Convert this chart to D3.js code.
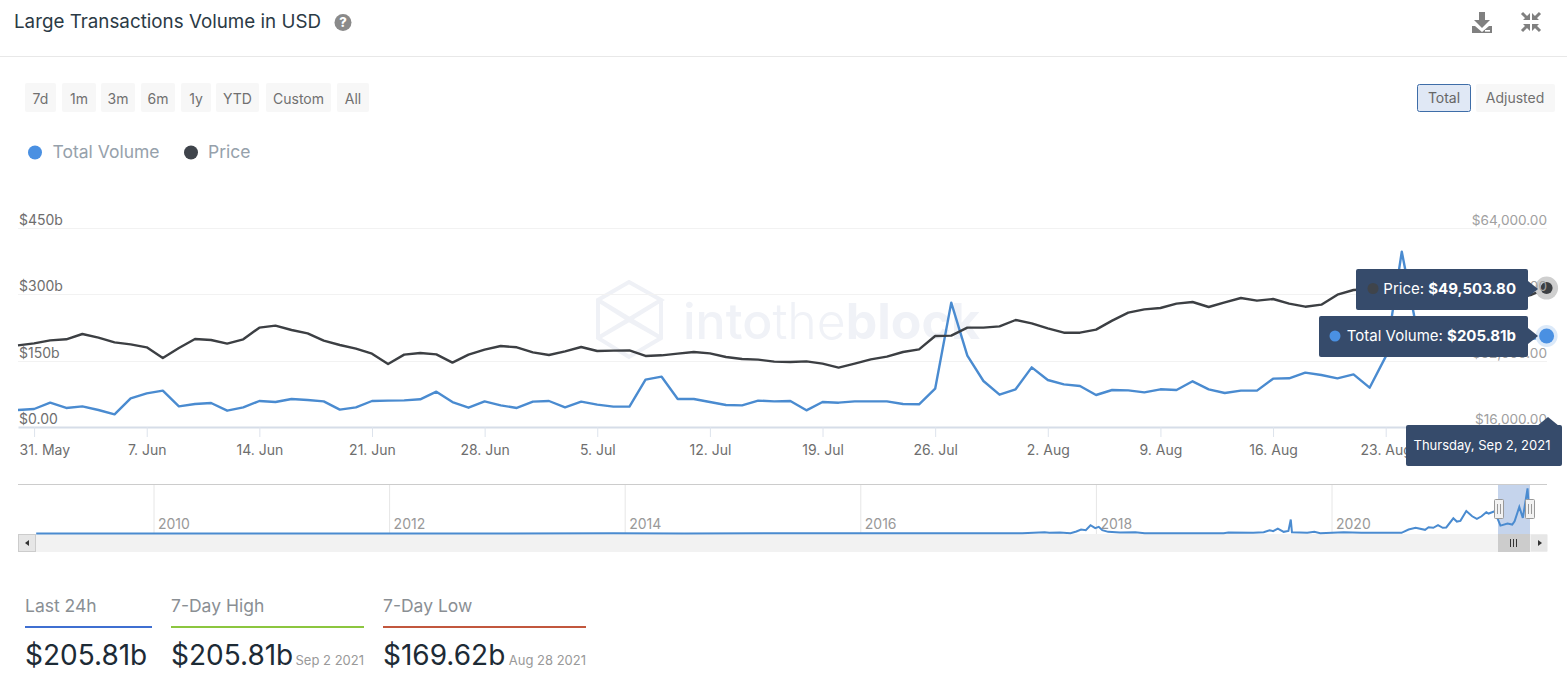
<!DOCTYPE html>
<html><head><meta charset="utf-8">
<script src="https://cdn.jsdelivr.net/npm/d3@7/dist/d3.min.js"></script>
<style>html,body{margin:0;padding:0;background:#fff;overflow:hidden}svg{display:block;font-family:Inter,"Open Sans",sans-serif}</style>
</head><body><svg id="c" width="1567" height="692"></svg>
<script>
const startDate = "2021-05-30";
const totalVolume = [38.4,40.7,55.0,43.0,46.7,38.4,28.6,64.8,76.1,82.2,46.7,52.0,54.3,36.9,44.5,58.8,56.5,63.3,61.1,58.0,39.2,44.5,58.8,59.6,60.3,62.6,79.9,56.5,43.7,58.0,49.0,43.0,
57.3,58.8,44.5,57.3,50.5,46.0,46.0,107.0,113.8,63.3,63.3,56.5,49.8,49.0,59.6,58.0,58.8,37.7,56.5,55.0,58.0,58.0,58.0,52.0,51.3,86.7,281.2,161.3,104.0,73.1,85.2,134.9,
106.3,96.5,92.7,72.4,83.7,82.9,78.4,85.2,83.7,103.3,85.2,76.9,82.2,82.2,109.3,110.1,122.9,117.6,110.1,119.1,88.9,159.1,396.5,208,196,180,169.62,176,183,190,198,205.81];
const price = [35700,36180,36900,37150,38430,37550,36420,35940,35220,32640,35050,37230,36980,36100,37150,39960,40440,39400,38590,36820,35780,34890,33690,31200,33450,33850,33530,31520,33450,34650,35540,35220,
34010,33370,34250,35300,34330,34410,34490,33130,33290,33690,34090,33770,32880,32400,32240,31760,31680,31840,31280,30310,31280,32320,32960,34090,34730,37950,38030,39960,39960,40280,41810,41000,
39800,38750,38750,39480,41650,43580,44380,44700,45750,46150,44940,46070,47110,46470,46870,45750,45020,45510,47920,49040,49300,49550,47700,49000,46900,49000,48900,48800,48900,47000,47800,49503.80];
const tickDates = ["2021-05-31","2021-06-07","2021-06-14","2021-06-21","2021-06-28","2021-07-05","2021-07-12","2021-07-19","2021-07-26","2021-08-02","2021-08-09","2021-08-16","2021-08-23"];
const tickLabels = ["31. May","7. Jun","14. Jun","21. Jun","28. Jun","5. Jul","12. Jul","19. Jul","26. Jul","2. Aug","9. Aug","16. Aug","23. Aug"];
const leftTicks = [0,150,300,450];
const leftLabels = ["$0.00","$150b","$300b","$450b"];
const rightTicks = [16000,32000,48000,64000];
const rightLabels = ["$16,000.00","$32,000.00","$48,000.00","$64,000.00"];
const navYears = [2009,2011,2013,2013.9,2014.5,2015.5,2016.3,2017,2017.37,2017.56,2017.6,2017.69,2017.78,2017.83,2017.87,2017.91,2017.95,2017.99,2018.02,2018.05,2018.1,2018.2,2018.33,2018.41,2019.08,2019.12,2019.33,2019.42,2019.47,2019.5,2019.54,2019.59,2019.63,2019.65,2019.66,2019.79,2019.85,2019.9,2020.1,2020.25,2020.59,2020.65,2020.71,2020.79,2020.82,2020.86,2020.9,2020.94,2020.97,2021.03,2021.06,2021.09,2021.14,2021.19,2021.23,2021.27,2021.31,2021.33,2021.38,2021.43,2021.49,2021.53,2021.55,2021.59,2021.62,2021.66,2021.67];
const navVolume = [0.3,0.4,0.8,2,1,1.5,2,2.5,3,11,6,8,3,17,34,28,70,45,56,28,14,8,11,3,3,8,6,11,28,20,42,14,22,118,11,6,14,3,11,6,6,34,48,31,53,48,70,48,51,129,101,107,191,146,124,146,180,169,188,67,84,76,104,225,132,382,230];
const navYearTicks = [2010,2012,2014,2016,2018,2020];
const rangeButtons = ["7d","1m","3m","6m","1y","YTD","Custom","All"];
const rangeLeft = [25,62,101,141,181,216,266,337];
const rangeRight = [56,96,135,175,211,259,331,369];
const statLabels = ["Last 24h","7-Day High","7-Day Low"];
const statValues = ["$205.81b","$205.81b","$169.62b"];
const statDates = ["","Sep 2 2021","Aug 28 2021"];
const statLeft = [25,171,383];
const statRight = [152,364,586];
const statColors = ["#3f6fd1","#8cc63f","#c2573d"];

const svg = d3.select("#c");
const BLUE="#4a8bd0", DARK="#3c3f43", NAVY="#364b6b";
const day = 86400000, t0 = new Date(startDate+"T00:00:00Z");
const dates = totalVolume.map((_,i)=>new Date(+t0+i*day));
const x = d3.scaleUtc().domain([t0,dates[dates.length-1]]).range([18,1546.6]);
const yL = d3.scaleLinear().domain([0,450]).range([427,228]);
const yR = d3.scaleLinear().domain([16000,64000]).range([427,228]);

// header
svg.append("text").attr("x",14).attr("y",27.5).attr("font-size",18.8).attr("fill","#2b3a45").text("Large Transactions Volume in USD");
svg.append("circle").attr("cx",343).attr("cy",22.5).attr("r",8.5).attr("fill","#8a8a8a");
svg.append("text").attr("x",343).attr("y",27).attr("text-anchor","middle").attr("font-size",13).attr("font-weight",800).attr("fill","#fff").text("?");
svg.append("line").attr("x1",0).attr("x2",1567).attr("y1",56.5).attr("y2",56.5).attr("stroke","#e8e8e8");
// download icon
svg.append("path").attr("fill","#808080").attr("d","M1479 12h6v8h5l-8 8-8-8h5zM1472 26l3 0 7 6 7-6 3 0v7h-20z");
svg.append("rect").attr("x",1485).attr("y",30).attr("width",5).attr("height",1.6).attr("fill","#fff");
// compress icon
svg.append("path").attr("fill","none").attr("stroke","#808080").attr("stroke-width",3).attr("d","M1522 13l6 6M1540 13l-6 6M1522 31l6-6M1540 31l-6-6");
svg.append("path").attr("fill","#808080").attr("d","M1523 20h7v-7zM1539 20h-7v-7zM1523 24h7v7zM1539 24h-7v7z");

// range buttons
const rb = svg.append("g").selectAll("g").data(rangeButtons).join("g");
rb.append("rect").attr("x",(d,i)=>rangeLeft[i]).attr("y",83).attr("width",(d,i)=>rangeRight[i]-rangeLeft[i]).attr("height",29).attr("rx",2).attr("fill","#f7f7f7");
rb.append("text").attr("x",(d,i)=>(rangeLeft[i]+rangeRight[i])/2).attr("y",104).attr("text-anchor","middle").attr("font-size",14).attr("fill","#707070").text(d=>d);
svg.append("rect").attr("x",1417.5).attr("y",84.5).attr("width",53).attr("height",27).attr("rx",2).attr("fill","#e0e8f5").attr("stroke","#3e6da8");
svg.append("text").attr("x",1444).attr("y",103).attr("text-anchor","middle").attr("font-size",14).attr("fill","#666").text("Total");
svg.append("rect").attr("x",1476).attr("y",84).attr("width",79).attr("height",28).attr("rx",2).attr("fill","#f7f7f7");
svg.append("text").attr("x",1515).attr("y",103).attr("text-anchor","middle").attr("font-size",14).attr("fill","#707070").text("Adjusted");

// legend
svg.append("circle").attr("cx",35).attr("cy",152.5).attr("r",7).attr("fill","#4a90e2");
svg.append("text").attr("x",52.5).attr("y",158).attr("font-size",17.5).attr("fill","#96a1ab").text("Total Volume");
svg.append("circle").attr("cx",191).attr("cy",152.5).attr("r",7).attr("fill","#3f444b");
svg.append("text").attr("x",208).attr("y",158).attr("font-size",17.5).attr("fill","#96a1ab").text("Price");

// watermark
const wm = svg.append("g");
wm.append("path").attr("fill","none").attr("stroke","#eff1f6").attr("stroke-width",4).attr("d","M629 282L661 300V338L629 357L598 338V300ZM598 300L661 338M661 300L598 338M629 282L661 300L629 320L598 300M598 338L629 320L661 338");
const wt = wm.append("text").attr("x",683).attr("y",339).attr("font-size",50).attr("fill","#f0f2f7");
wt.append("tspan").attr("font-weight",500).text("into");
wt.append("tspan").attr("font-weight",300).text("the");
wt.append("tspan").attr("font-weight",700).text("block");

// grid
svg.append("g").selectAll("line").data(leftTicks.slice(1)).join("line").attr("x1",18).attr("x2",1547)
  .attr("y1",d=>Math.round(yL(d))+.5).attr("y2",d=>Math.round(yL(d))+.5).attr("stroke","#f2f2f2");

// x axis
const xAxis = d3.axisBottom(x).tickValues(tickDates.map(d=>new Date(d+"T00:00:00Z"))).tickFormat((d,i)=>tickLabels[i]).tickSize(10).tickSizeOuter(0).tickPadding(8);
const gx = svg.append("g").attr("transform","translate(0,427)").call(xAxis);
gx.select(".domain").attr("stroke","#d6dde8").attr("stroke-width",2);
gx.selectAll(".tick line").attr("stroke","#dde3ec");
gx.selectAll(".tick text").attr("font-size",14).attr("font-family","Inter").attr("fill","#6e6e6e");
gx.selectAll(".tick text").filter((d,i)=>i===0).attr("text-anchor","start").attr("dx",-15);

// lines
const line = (y)=>d3.line().x((d,i)=>x(dates[i])).y(d=>y(d));
svg.append("path").datum(totalVolume).attr("fill","none").attr("stroke",BLUE).attr("stroke-width",2.4).attr("stroke-linejoin","round").attr("d",line(yL));
svg.append("path").datum(price).attr("fill","none").attr("stroke",DARK).attr("stroke-width",2.4).attr("stroke-linejoin","round").attr("d",line(yR));

// end markers
const lx = x(dates[dates.length-1]);
svg.append("circle").attr("cx",lx).attr("cy",yR(price[price.length-1])).attr("r",11.5).attr("fill","#cfcfcf");
svg.append("circle").attr("cx",lx).attr("cy",yR(price[price.length-1])).attr("r",6).attr("fill",DARK);
svg.append("circle").attr("cx",lx).attr("cy",yL(totalVolume[totalVolume.length-1])).attr("r",11).attr("fill","#dbe9f9");
svg.append("circle").attr("cx",lx).attr("cy",yL(totalVolume[totalVolume.length-1])).attr("r",7.5).attr("fill","#4a90e2");

// y labels
svg.append("g").selectAll("text").data(leftTicks).join("text").attr("x",19).attr("y",d=>yL(d)-3).attr("font-size",14).attr("fill","#6e6e6e").text((d,i)=>leftLabels[i]);
svg.append("g").selectAll("text").data(rightTicks).join("text").attr("x",1547).attr("y",d=>yR(d)-3).attr("text-anchor","end").attr("font-size",13.6).attr("fill","#a0a0a0").text((d,i)=>rightLabels[i]);

// navigator
const nx = d3.scaleLinear().domain([2010,2020]).range([154,1332]);
const ny = d3.scaleLinear().domain([0,396.5]).range([533.5,486.7]);
svg.append("rect").attr("x",18).attr("y",534).attr("width",1529).attr("height",18).attr("fill","#f2f2f2");
svg.append("g").selectAll("line").data(navYearTicks).join("line").attr("x1",d=>nx(d)).attr("x2",d=>nx(d)).attr("y1",485).attr("y2",534).attr("stroke","#e6e6e6");
svg.append("g").selectAll("text").data(navYearTicks).join("text").attr("x",d=>nx(d)+4).attr("y",529).attr("font-size",14).attr("fill","#999").text(d=>d);
svg.append("rect").attr("x",1498).attr("y",485).attr("width",32).attr("height",49).attr("fill","#c5d4ec");
svg.append("line").attr("x1",18).attr("x2",1547).attr("y1",484.5).attr("y2",484.5).attr("stroke","#ccc");
svg.append("path").datum(navVolume).attr("fill","none").attr("stroke",BLUE).attr("stroke-width",2)
  .attr("d",d3.line().x((d,i)=>nx(navYears[i])).y(d=>ny(d)));
svg.append("rect").attr("x",1498).attr("y",534).attr("width",32).attr("height",18).attr("fill","#cccccc");
svg.append("path").attr("stroke","#333").attr("d","M1510.5 539v8M1513.5 539v8M1516.5 539v8");
svg.append("rect").attr("x",18.5).attr("y",534.5).attr("width",17).attr("height",17).attr("fill","#e6e6e6").attr("stroke","#ccc");
svg.append("path").attr("fill","#333").attr("d","M29 540v6l-4-3z");
svg.append("rect").attr("x",1531).attr("y",534.5).attr("width",16.5).attr("height",17).attr("fill","#e6e6e6");
svg.append("path").attr("fill","#333").attr("d","M1538 540v6l4-3z");
[1494,1525].forEach(h=>{
  svg.append("rect").attr("x",h+.5).attr("y",499.5).attr("width",9).attr("height",19).attr("rx",1).attr("fill","#f2f2f2").attr("stroke","#999");
  svg.append("path").attr("stroke","#999").attr("d",`M${h+3.5} 504v10M${h+6.5} 504v10`);
});

// tooltips
const tip = (x0,x1,y0,y1)=>svg.append("rect").attr("x",x0).attr("y",y0).attr("width",x1-x0).attr("height",y1-y0).attr("rx",2).attr("fill",NAVY);
svg.append("path").attr("fill",NAVY).attr("d","M1528 281L1538 289L1528 297ZM1528 328L1538 336L1528 344Z");
tip(1356,1528,269,310); tip(1319,1528,316,357);
svg.append("circle").attr("cx",1373).attr("cy",288.5).attr("r",5.5).attr("fill","#3f444b");
svg.append("circle").attr("cx",1335).attr("cy",336).attr("r",5.5).attr("fill","#4a90e2");
const t1=svg.append("text").attr("x",1516).attr("y",294).attr("text-anchor","end").attr("font-size",15).attr("fill","#fff");
t1.append("tspan").text("Price: "); t1.append("tspan").attr("font-weight",700).text("$49,503.80");
const t2=svg.append("text").attr("x",1516).attr("y",341).attr("text-anchor","end").attr("font-size",15).attr("fill","#fff");
t2.append("tspan").text("Total Volume: "); t2.append("tspan").attr("font-weight",700).text("$205.81b");
svg.append("path").attr("fill",NAVY).attr("d","M1537 426L1548 417L1559 426Z");
tip(1406,1562,425,466);
svg.append("text").attr("x",1482).attr("y",450).attr("text-anchor","middle").attr("font-size",13).attr("fill","#fff").text("Thursday, Sep 2, 2021");

// stats
const st = svg.append("g").selectAll("g").data(statLabels).join("g");
st.append("text").attr("x",(d,i)=>statLeft[i]).attr("y",612).attr("font-size",17.5).attr("fill","#8a8f94").text(d=>d);
st.append("line").attr("x1",(d,i)=>statLeft[i]).attr("x2",(d,i)=>statRight[i]).attr("y1",627).attr("y2",627).attr("stroke-width",2).attr("stroke",(d,i)=>statColors[i]);
st.append("text").attr("x",(d,i)=>statLeft[i]).attr("y",665).attr("font-size",28).attr("fill","#1d2b36").text((d,i)=>statValues[i]);
st.append("text").attr("x",(d,i)=>statRight[i]).attr("y",665).attr("text-anchor","end").attr("font-size",13).attr("fill","#999").text((d,i)=>statDates[i]);
</script></body></html>
